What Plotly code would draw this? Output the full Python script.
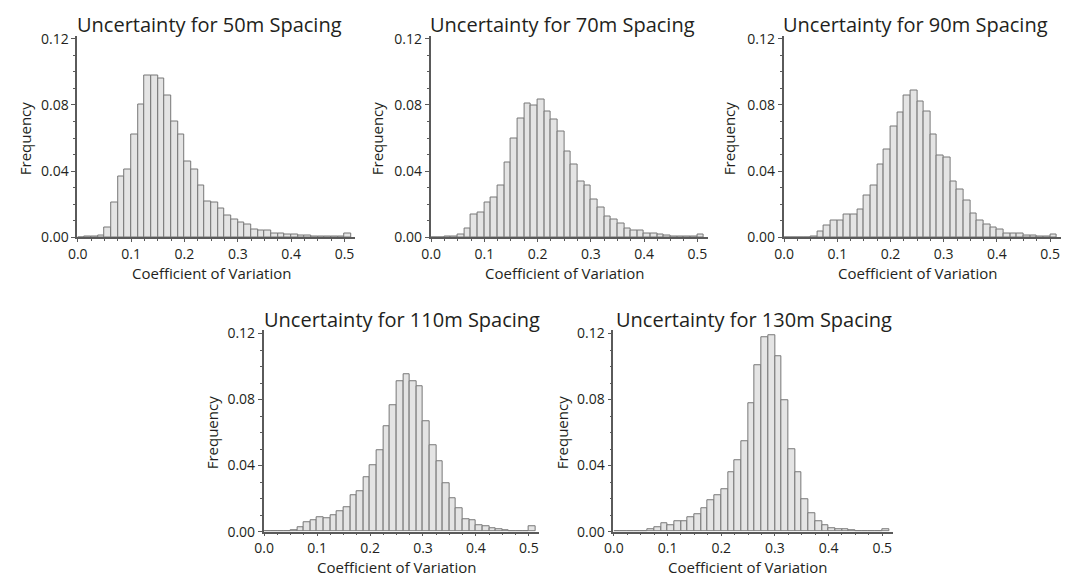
import plotly.graph_objects as go

W, H = 1065, 587
BIN_W = 0.0125
bin_centers = [round((k + 0.5) * BIN_W, 5) for k in range(41)]

titles = ["Uncertainty for 50m Spacing", "Uncertainty for 70m Spacing",
          "Uncertainty for 90m Spacing", "Uncertainty for 110m Spacing",
          "Uncertainty for 130m Spacing"]

freq_50 = [0.0, 0.0003, 0.0005, 0.001, 0.006, 0.021, 0.037, 0.041, 0.062, 0.080,
           0.098, 0.098, 0.096, 0.086, 0.070, 0.062, 0.046, 0.041, 0.031, 0.0215,
           0.021, 0.0176, 0.013, 0.011, 0.009, 0.008, 0.0045, 0.004, 0.004, 0.0025,
           0.002, 0.0018, 0.0015, 0.001, 0.0012, 0.0005, 0.0005, 0.0003, 0.0003, 0.0003,
           0.0025]
freq_70 = [0.0, 0.0, 0.0003, 0.0005, 0.0015, 0.0055, 0.014, 0.015, 0.021, 0.024,
           0.031, 0.045, 0.060, 0.072, 0.081, 0.0795, 0.083, 0.076, 0.071, 0.064,
           0.052, 0.044, 0.034, 0.031, 0.023, 0.018, 0.0128, 0.011, 0.0085, 0.005,
           0.004, 0.0043, 0.0025, 0.002, 0.0015, 0.0012, 0.0005, 0.0003, 0.0003, 0.0003,
           0.0015]
freq_90 = [0.0, 0.0, 0.0, 0.0, 0.0003, 0.0035, 0.007, 0.0102, 0.0102, 0.0135,
           0.0137, 0.0165, 0.025, 0.031, 0.044, 0.053, 0.067, 0.0755, 0.086, 0.089,
           0.082, 0.076, 0.062, 0.0495, 0.048, 0.034, 0.029, 0.022, 0.0145, 0.0102,
           0.0078, 0.006, 0.0047, 0.002, 0.0023, 0.002, 0.001, 0.0012, 0.0005, 0.0005,
           0.0014]
freq_110 = [0.0, 0.0, 0.0, 0.0004, 0.001, 0.0026, 0.0055, 0.007, 0.0088, 0.0079,
            0.010, 0.0124, 0.015, 0.022, 0.0244, 0.033, 0.040, 0.0495, 0.0636, 0.0766,
            0.091, 0.0955, 0.0913, 0.088, 0.0668, 0.0526, 0.0424, 0.0295, 0.020, 0.014,
            0.0075, 0.0069, 0.0039, 0.003, 0.0022, 0.0012, 0.0008, 0.0005, 0.0004, 0.0002,
            0.0033]
freq_130 = [0.0, 0.0, 0.0, 0.0, 0.0003, 0.0012, 0.0027, 0.005, 0.004, 0.0065,
            0.006, 0.0085, 0.0106, 0.014, 0.019, 0.0218, 0.0257, 0.036, 0.0434, 0.055,
            0.0776, 0.1008, 0.1175, 0.119, 0.1065, 0.0797, 0.050, 0.0357, 0.0195, 0.011,
            0.006, 0.0039, 0.0022, 0.0016, 0.0012, 0.0006, 0.0003, 0.0003, 0.0003, 0.0003,
            0.0015]
series = [freq_50, freq_70, freq_90, freq_110, freq_130]

x_ticks = [0.0, 0.1, 0.2, 0.3, 0.4, 0.5]
y_ticks = [0.0, 0.04, 0.08, 0.12]

# panel boxes in pixels: left, right, top, bottom
boxes = [(68.8, 349.1, 29.3, 236.7), (425.2, 704.9, 29.3, 236.7),
         (781.2, 1060.7, 29.3, 236.7), (256.8, 535.0, 332.3, 539.3),
         (609.5, 891.5, 332.3, 539.3)]
title_pos = [(202, 18), (558, 18), (914, 18), (396, 321), (751, 321)]
xlab_pos = [(204, 273), (560, 273), (916, 273), (391, 576), (745, 576)]
ylab_pos = [(16, 135), (371, 135), (726, 135), (205, 438), (558, 438)]

FONT = "Open Sans"
TXT = "#231f20"
AX = "#5a5a5a"

fig = go.Figure()
annotations = []
for i, (vals, box) in enumerate(zip(series, boxes)):
    sfx = "" if i == 0 else str(i + 1)
    fig.add_trace(go.Bar(x=bin_centers, y=vals, width=BIN_W,
                         marker=dict(color="#e4e4e4", line=dict(color="#777777", width=1)),
                         xaxis="x" + sfx, yaxis="y" + sfx, showlegend=False))
    l, r, t, b = box
    fig.update_layout(**{
        "xaxis" + sfx: dict(domain=[l / W, r / W], anchor="y" + sfx, range=[-0.001, 0.52],
                            tickvals=x_ticks, tickformat=".1f", ticks="outside", ticklen=3,
                            tickcolor=AX, showline=True, linecolor=AX, linewidth=1.5,
                            showgrid=False, zeroline=False,
                            tickfont=dict(family=FONT, size=14, color=TXT),
                            minor=dict(dtick=0.025, tick0=0, ticks="outside", ticklen=2,
                                       tickcolor=AX, showgrid=False)),
        "yaxis" + sfx: dict(domain=[1 - b / H, 1 - t / H], anchor="x" + sfx, range=[0, 0.122],
                            tickvals=y_ticks, tickformat=".2f", ticks="outside", ticklen=4,
                            tickcolor=AX, showline=True, linecolor=AX, linewidth=1.5,
                            showgrid=False, zeroline=False,
                            tickfont=dict(family=FONT, size=14, color=TXT),
                            minor=dict(dtick=0.01, tick0=0, ticks="outside", ticklen=2,
                                       tickcolor=AX, showgrid=False)),
    })
    tx, ty = title_pos[i]
    annotations.append(dict(text=titles[i], x=tx / W, y=1 - ty / H, xref="paper", yref="paper",
                            xanchor="center", yanchor="middle", showarrow=False,
                            font=dict(family=FONT, size=20, color=TXT)))
    xx, xy = xlab_pos[i]
    annotations.append(dict(text="Coefficient of Variation", x=xx / W, y=1 - xy / H,
                            xref="paper", yref="paper", xanchor="center", yanchor="middle",
                            showarrow=False, font=dict(family=FONT, size=15, color=TXT)))
    yx, yy = ylab_pos[i]
    annotations.append(dict(text="Frequency", x=yx / W, y=1 - yy / H, xref="paper", yref="paper",
                            xanchor="center", yanchor="middle", textangle=-90,
                            showarrow=False, font=dict(family=FONT, size=15, color=TXT)))

fig.update_layout(width=W, height=H, margin=dict(l=0, r=0, t=0, b=0),
                  paper_bgcolor="white", plot_bgcolor="white", bargap=0,
                  annotations=annotations)
fig.write_html("out.html")
